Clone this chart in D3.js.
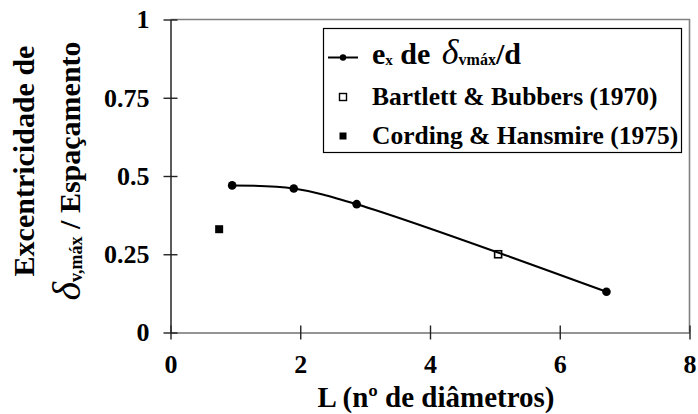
<!DOCTYPE html>
<html>
<head>
<meta charset="utf-8">
<script src="https://cdn.jsdelivr.net/npm/d3@7"></script>
<style>
  html, body { margin: 0; padding: 0; background: #fff; }
  svg { display: block; }
  text { font-family: "Liberation Serif", "Times New Roman", serif; font-weight: bold; fill: #000; }
</style>
</head>
<body>
<svg id="chart" width="698" height="414"></svg>
<script>
// Axis ticks
const xTicks = [0, 2, 4, 6, 8];
const yTicks = [0, 0.25, 0.5, 0.75, 1];
const yTickLabels = ["0", "0.25", "0.5", "0.75", "1"];

// Eccentricity of the max vertical settlement vs spacing (smoothed series)
const exL = [0.95, 1.9, 2.87, 6.72];
const exV = [0.47, 0.46, 0.41, 0.13];

// Bartlett & Bubbers (1970)
const bartlettL = [5.05];
const bartlettV = [0.25];

// Cording & Hansmire (1975)
const cordingL = [0.75];
const cordingV = [0.33];

const svg = d3.select("#chart");

const x = d3.scaleLinear().domain([0, 8]).range([170.5, 689.5]);
const y = d3.scaleLinear().domain([0, 1]).range([332.5, 19.5]);

// plot frame (top and right edges)
svg.append("path")
  .attr("d", `M${x(0)},${y(1)}H${x(8)}V${y(0)}`)
  .attr("fill", "none")
  .attr("stroke", "#808080")
  .attr("stroke-width", 1.6);

// x axis
const gx = svg.append("g")
  .attr("transform", `translate(0,${y(0)})`)
  .call(d3.axisBottom(x).tickValues(xTicks).tickFormat(d3.format("d"))
    .tickSizeInner(7).tickSizeOuter(0).tickPadding(15));
gx.select(".domain").attr("stroke", "#707070").attr("stroke-width", 1.6);
gx.selectAll(".tick line").attr("y1", -7).attr("stroke", "#222").attr("stroke-width", 1.4);
gx.selectAll(".tick text").attr("font-size", 26).attr("font-family", null);

// y axis
const gy = svg.append("g")
  .attr("transform", `translate(${x(0)},0)`)
  .call(d3.axisLeft(y).tickValues(yTicks).tickFormat((d, i) => yTickLabels[i])
    .tickSizeInner(7).tickSizeOuter(0).tickPadding(14));
gy.select(".domain").attr("stroke", "#333").attr("stroke-width", 1.6);
gy.selectAll(".tick line").attr("x1", 7).attr("stroke", "#222").attr("stroke-width", 1.4);
gy.selectAll(".tick text").attr("font-size", 26).attr("font-family", null);

// x axis title
svg.append("text")
  .attr("x", 436).attr("y", 407)
  .attr("text-anchor", "middle")
  .attr("font-size", 29)
  .text("L (nº de diâmetros)");

// y axis title, two rotated lines
svg.append("text")
  .attr("transform", "translate(34,161) rotate(-90)")
  .attr("text-anchor", "middle")
  .attr("font-size", 30)
  .text("Excentricidade de");

const yt2 = svg.append("text")
  .attr("transform", "translate(80,171) rotate(-90)")
  .attr("text-anchor", "middle")
  .attr("font-size", 30);
yt2.append("tspan").attr("font-style", "italic").attr("font-weight", "normal")
  .attr("font-size", 40).text("δ");
yt2.append("tspan").attr("font-size", 18).attr("dy", 2).text("v,máx");
yt2.append("tspan").attr("dy", -2).text(" / Espaçamento");

// smoothed series line
const pts = exL.map((d, i) => [d, exV[i]]);
svg.append("path")
  .datum(pts)
  .attr("fill", "none")
  .attr("stroke", "#000")
  .attr("stroke-width", 2)
  .attr("d", d3.line().x(d => x(d[0])).y(d => y(d[1])).curve(d3.curveCatmullRom.alpha(0.5)));

svg.append("g").selectAll("circle")
  .data(pts)
  .join("circle")
  .attr("cx", d => x(d[0]))
  .attr("cy", d => y(d[1]))
  .attr("r", 4.3)
  .attr("fill", "#000");

// Bartlett & Bubbers: open squares
const sq = 7;
svg.append("g").selectAll("rect")
  .data(bartlettL.map((d, i) => [d, bartlettV[i]]))
  .join("rect")
  .attr("x", d => x(d[0]) - sq / 2)
  .attr("y", d => y(d[1]) - sq / 2)
  .attr("width", sq).attr("height", sq)
  .attr("fill", "none")
  .attr("stroke", "#000")
  .attr("stroke-width", 1.6);

// Cording & Hansmire: filled squares
svg.append("g").selectAll("rect")
  .data(cordingL.map((d, i) => [d, cordingV[i]]))
  .join("rect")
  .attr("x", d => x(d[0]) - 4)
  .attr("y", d => y(d[1]) - 4)
  .attr("width", 8).attr("height", 8)
  .attr("fill", "#000");

// legend
const lg = svg.append("g");
lg.append("rect")
  .attr("x", 323.5).attr("y", 28.5)
  .attr("width", 358).attr("height", 124)
  .attr("fill", "#fff")
  .attr("stroke", "#000")
  .attr("stroke-width", 1.2);

lg.append("line")
  .attr("x1", 328).attr("x2", 358).attr("y1", 57.5).attr("y2", 57.5)
  .attr("stroke", "#000").attr("stroke-width", 2);
lg.append("circle").attr("cx", 343).attr("cy", 57.5).attr("r", 3.2).attr("fill", "#000");

const l1 = lg.append("text").attr("x", 372).attr("y", 63.5).attr("font-size", 30);
l1.append("tspan").text("e");
l1.append("tspan").attr("font-size", 15).attr("dy", 1).text("x");
l1.append("tspan").attr("dy", -1).text(" de ");
l1.append("tspan").attr("font-style", "italic").attr("font-weight", "normal")
  .attr("font-size", 36).attr("dx", 4).text("δ");
l1.append("tspan").attr("font-size", 16).attr("dy", 1).text("vmáx");
l1.append("tspan").attr("dy", -1).text("/d");

lg.append("rect")
  .attr("x", 339.5).attr("y", 93.5).attr("width", 7).attr("height", 7)
  .attr("fill", "none").attr("stroke", "#000").attr("stroke-width", 1.4);
lg.append("text").attr("x", 372).attr("y", 105).attr("font-size", 25.5)
  .text("Bartlett & Bubbers (1970)");

lg.append("rect")
  .attr("x", 339.5).attr("y", 132.5).attr("width", 7).attr("height", 7)
  .attr("fill", "#000");
lg.append("text").attr("x", 372).attr("y", 143.5).attr("font-size", 25.5)
  .text("Cording & Hansmire (1975)");
</script>
</body>
</html>
